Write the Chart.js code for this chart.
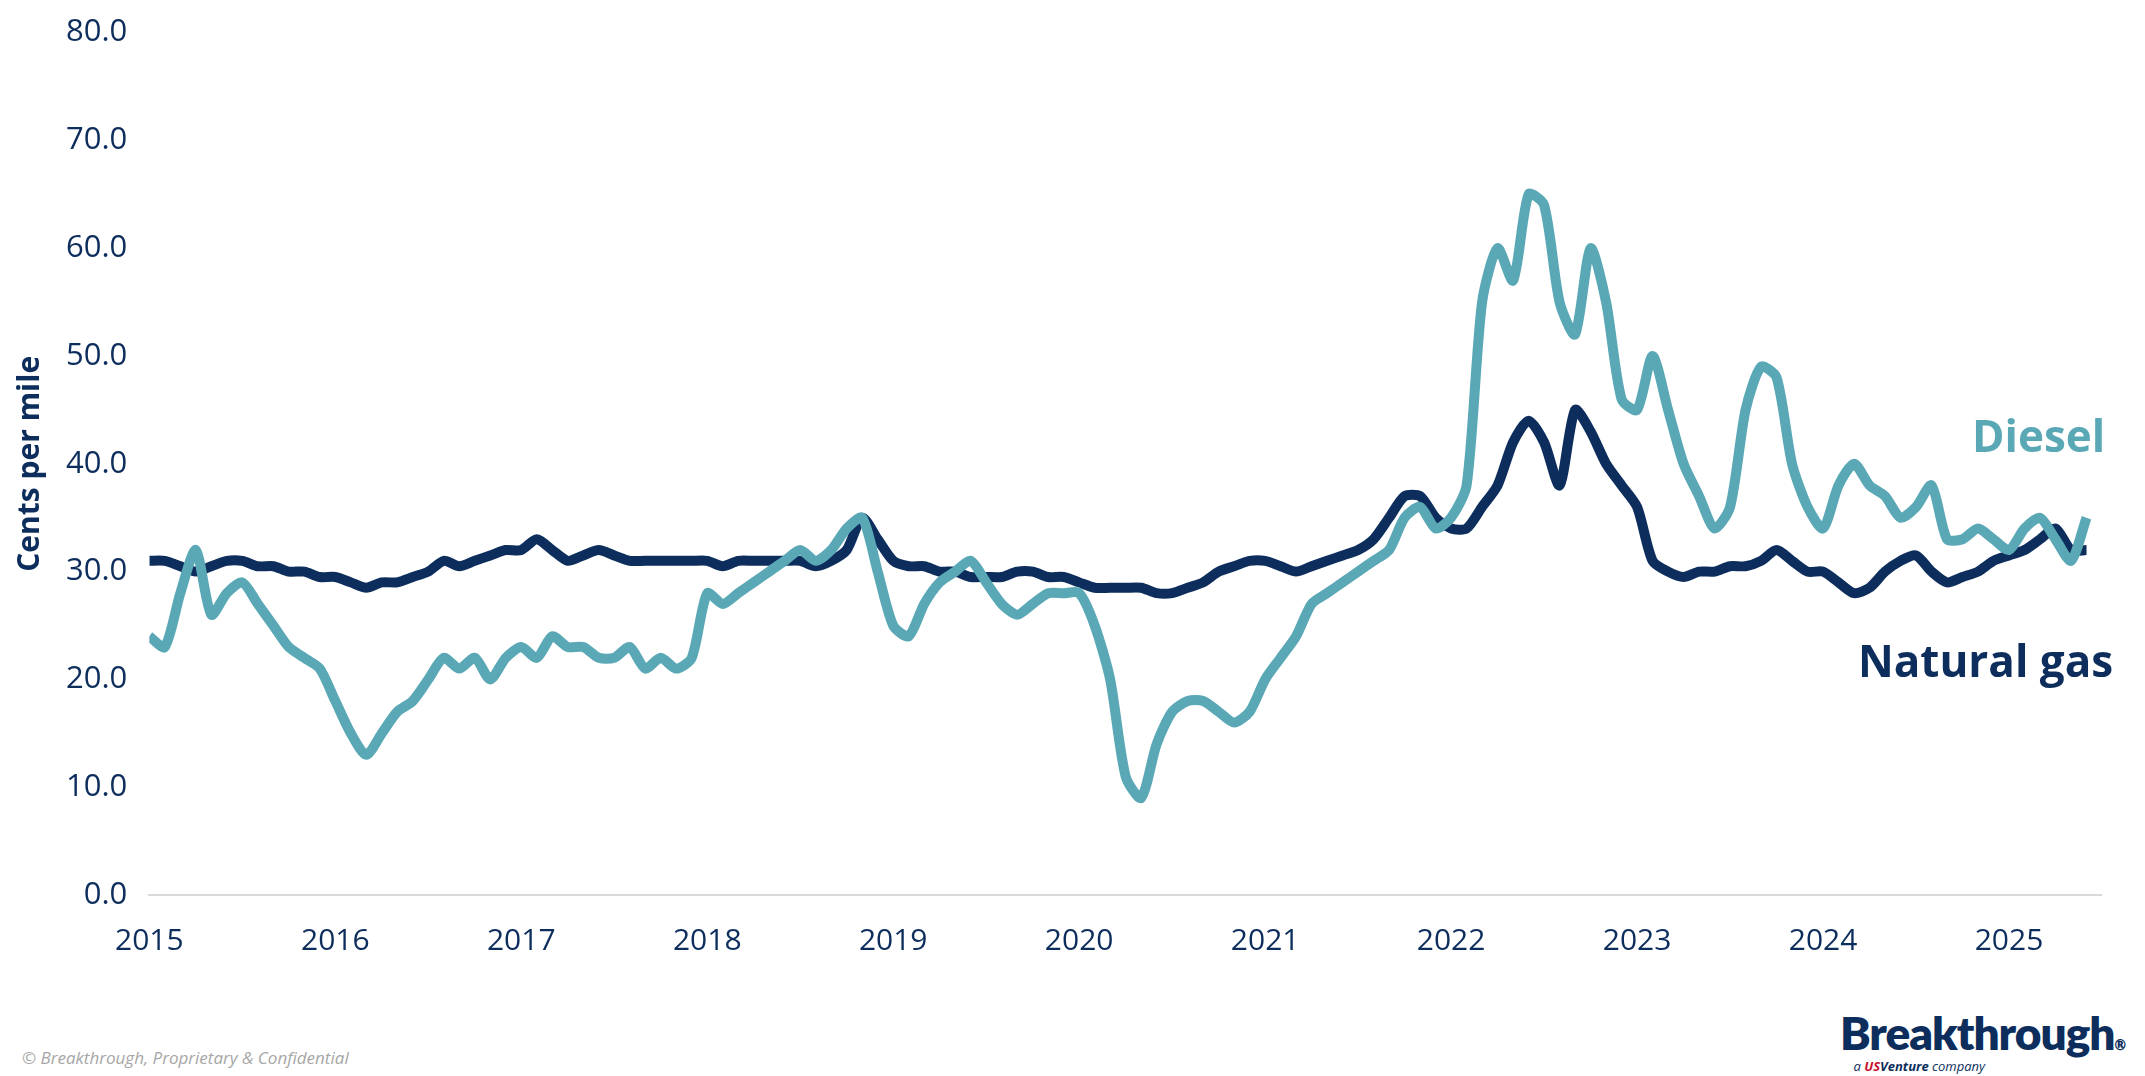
<!DOCTYPE html>
<html>
<head>
<meta charset="utf-8">
<script src="https://cdn.jsdelivr.net/npm/chart.js@4"></script>
<style>
  body { margin: 0; background: #fff; font-family: "Open Sans", sans-serif; }
  #wrap { position: relative; width: 2145px; height: 1076px; }
  #chartBox { position: absolute; left: 0; top: 0; width: 2102px; height: 987px; }
  .lbl { position: absolute; font-family: "Open Sans", sans-serif; font-weight: 700; font-size: 44px; }
  #foot { position: absolute; left: 22px; top: 1046px; font-size: 17px; color: #a6a6a6; font-style: italic; }
  #logo { position: absolute; right: 20px; top: 1005px; color: #0d2e5c; font-weight: 800; font-size: 46px; font-family: "Lato", sans-serif; letter-spacing: -1px; }
  #sub { position: absolute; right: 160px; top: 1057px; color: #0d2e5c; font-size: 13px; font-style: italic; }
</style>
</head>
<body>
<div id="wrap">
  <div id="chartBox"><canvas id="c"></canvas></div>
  <div class="lbl" style="left:1972px; top:405px; color:#5aa8b5;">Diesel</div>
  <div class="lbl" style="left:1858px; top:630px; color:#0d2e5c;">Natural gas</div>
  <div id="foot">© Breakthrough, Proprietary &amp; Confidential</div>
  <div id="logo">Breakthrough<span style="font-size:14px">®</span></div>
  <div id="sub">a <b style="color:#c8102e">US</b><b>Venture</b> company</div>
</div>
<script>
// === data: monthly readings, Jan 2015 .. Jun 2025 ===
const yearTicks = [2015, 2016, 2017, 2018, 2019, 2020, 2021, 2022, 2023, 2024, 2025];

const diesel = [
  24, 23, 28, 32, 26, 28, 29, 27, 25, 23, 22, 21,
  18, 15, 13, 15, 17, 18, 20, 22, 21, 22, 20, 22,
  23, 22, 24, 23, 23, 22, 22, 23, 21, 22, 21, 22,
  28, 27, 28, 29, 30, 31, 32, 31, 32, 34, 35, 30,
  25, 24, 27, 29, 30, 31, 29, 27, 26, 27, 28, 28,
  28, 25, 20, 11, 9, 14, 17, 18, 18, 17, 16, 17,
  20, 22, 24, 27, 28, 29, 30, 31, 32, 35, 36, 34,
  35, 38, 55, 60, 57, 65, 64, 55, 52, 60, 55, 46,
  45, 50, 45, 40, 37, 34, 36, 45, 49, 48, 40, 36,
  34, 38, 40, 38, 37, 35, 36, 38, 33, 33, 34, 33,
  32, 34, 35, 33, 31, 35
];

const natGas = [
  31, 31, 30.5, 30, 30.5, 31, 31, 30.5, 30.5, 30, 30, 29.5,
  29.5, 29, 28.5, 29, 29, 29.5, 30, 31, 30.5, 31, 31.5, 32,
  32, 33, 32, 31, 31.5, 32, 31.5, 31, 31, 31, 31, 31,
  31, 30.5, 31, 31, 31, 31, 31, 30.5, 31, 32, 35, 33,
  31, 30.5, 30.5, 30, 30, 29.5, 29.5, 29.5, 30, 30, 29.5, 29.5,
  29, 28.5, 28.5, 28.5, 28.5, 28, 28, 28.5, 29, 30, 30.5, 31,
  31, 30.5, 30, 30.5, 31, 31.5, 32, 33, 35, 37, 37, 35,
  34, 34, 36, 38, 42, 44, 42, 38, 45, 43, 40, 38,
  36, 31, 30, 29.5, 30, 30, 30.5, 30.5, 31, 32, 31, 30,
  30, 29, 28, 28.5, 30, 31, 31.5, 30, 29, 29.5, 30, 31,
  31.5, 32, 33, 34, 32, 32
];

const toPoints = arr => arr.map((v, i) => ({ x: 2015 + i / 12, y: v }));

const navy = "#0d2e5c";
const teal = "#5aa8b5";

new Chart(document.getElementById("c"), {
  type: "line",
  data: {
    datasets: [
      { label: "Diesel", data: toPoints(diesel), borderColor: teal, borderWidth: 10, pointRadius: 0, tension: 0.25 },
      { label: "Natural gas", data: toPoints(natGas), borderColor: navy, borderWidth: 10, pointRadius: 0, tension: 0.25 }
    ]
  },
  options: {
    responsive: true,
    maintainAspectRatio: false,
    animation: false,
    layout: { padding: { left: 8, top: 12, right: 0 } },
    plugins: { legend: { display: false }, tooltip: { enabled: false } },
    scales: {
      x: {
        type: "linear", min: 2015, max: 2025.5,
        afterBuildTicks: axis => { axis.ticks = yearTicks.map(v => ({ value: v })); },
        ticks: { color: navy, font: { size: 30, family: "Open Sans" }, padding: 28, callback: v => String(v) },
        grid: { display: false, drawTicks: false },
        border: { color: "#d9d9d9", width: 2 }
      },
      y: {
        min: 0, max: 80,
        ticks: { stepSize: 10, color: navy, font: { size: 31, family: "Open Sans" }, padding: 14, callback: v => v.toFixed(1) },
        grid: { display: false },
        border: { display: false },
        title: { display: true, text: "Cents per mile", color: navy, font: { size: 30, weight: "bold", family: "Open Sans" } }
      }
    }
  }
});
</script>
</body>
</html>
